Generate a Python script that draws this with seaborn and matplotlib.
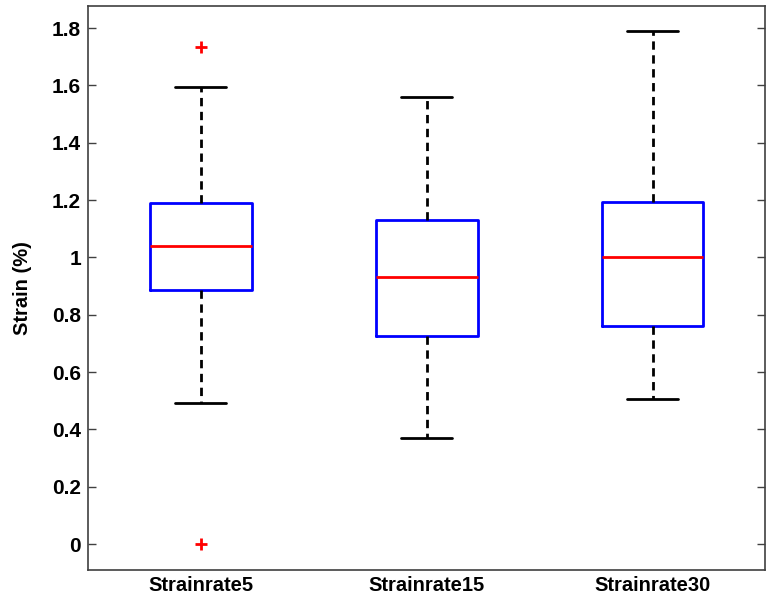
import numpy as np
import pandas as pd
import seaborn as sns
import matplotlib.pyplot as plt

# strain values (each group chosen so quartiles/whiskers match)
groups = ['Strainrate5', 'Strainrate15', 'Strainrate30']
strain5 = [0.0, 0.494, 0.887, 0.96, 1.040, 1.12, 1.191, 1.596, 1.733]
strain15 = [0.372, 0.727, 0.931, 1.129, 1.561]
strain30 = [0.508, 0.761, 1.003, 1.195, 1.790]
yticks = [0, 0.2, 0.4, 0.6, 0.8, 1, 1.2, 1.4, 1.6, 1.8]
ytick_labels = ['0', '0.2', '0.4', '0.6', '0.8', '1', '1.2', '1.4', '1.6', '1.8']

df = pd.DataFrame({
    'group': [groups[0]] * len(strain5) + [groups[1]] * len(strain15) + [groups[2]] * len(strain30),
    'strain': strain5 + strain15 + strain30,
})

sns.set_style('white')
plt.rcParams['font.family'] = ['Liberation Sans', 'DejaVu Sans']
plt.rcParams['font.weight'] = 'bold'
plt.rcParams['text.color'] = 'black'
plt.rcParams['xtick.color'] = 'black'
plt.rcParams['ytick.color'] = 'black'
plt.rcParams['axes.labelcolor'] = 'black'

fig = plt.figure(figsize=(7.67, 6.02), dpi=100)
ax = fig.add_axes([0.1147, 0.0532, 0.8833, 0.9368])

lw = 2.0
sns.boxplot(data=df, x='group', y='strain', order=groups, width=0.45, whis=1.5,
            fill=False, ax=ax,
            boxprops=dict(color='blue', linewidth=lw),
            medianprops=dict(color='red', linewidth=lw),
            whiskerprops=dict(color='black', linestyle=(0, (3, 2)), linewidth=lw),
            capprops=dict(color='black', linewidth=lw),
            flierprops=dict(marker='+', markeredgecolor='red', markerfacecolor='red',
                            markersize=8, markeredgewidth=2))

ax.set_xlim(-0.5, 2.5)
ax.set_ylim(-0.09, 1.877)
ax.set_yticks(yticks)
ax.set_yticklabels(ytick_labels, fontsize=15, fontweight='bold')
ax.set_xticks(range(len(groups)))
ax.set_xticklabels(groups, fontsize=14.5, fontweight='bold')
ax.set_xlabel('')
ax.set_ylabel('Strain (%)', fontsize=14.5, fontweight='bold', labelpad=14)

ax.tick_params(axis='y', direction='in', length=6, width=1, color='#404040',
               labelcolor='black', left=True, right=True, pad=5)
ax.tick_params(axis='x', length=0, pad=4, labelcolor='black')
for s in ax.spines.values():
    s.set_visible(True)
    s.set_color('#404040')
    s.set_linewidth(1.2)

fig.savefig('out.png', dpi=100, facecolor='white')
